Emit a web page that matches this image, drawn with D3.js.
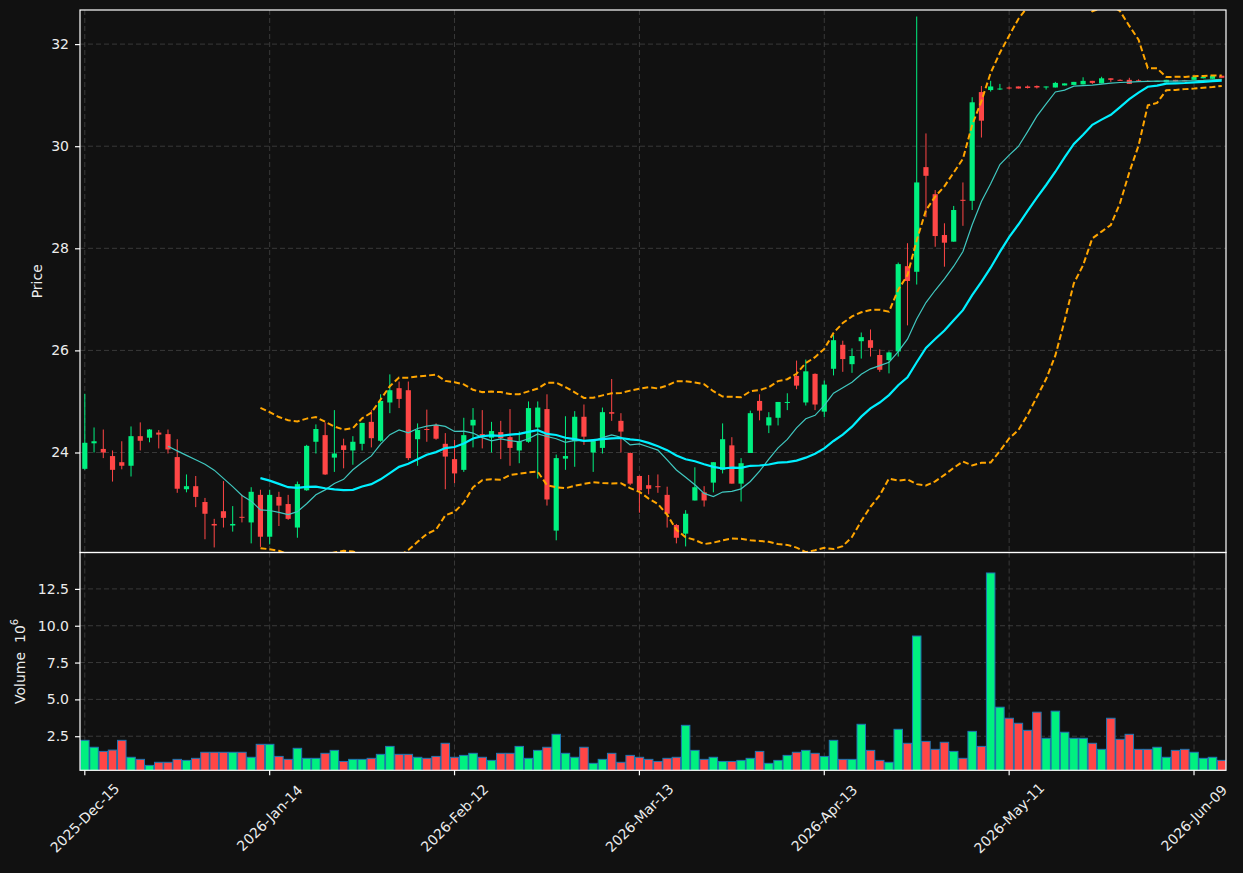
<!DOCTYPE html>
<html>
<head>
<meta charset="utf-8">
<script src="https://cdn.jsdelivr.net/npm/d3@7"></script>
<style>
  html, body { margin: 0; padding: 0; background: #111111; }
  svg { display: block; font-family: "DejaVu Sans", sans-serif; }
</style>
</head>
<body>
<div id="chart"></div>
<script>
// Daily OHLC (price) and volume (millions)
var opens = [23.68,24.18,24.07,23.93,23.81,23.74,24.32,24.29,24.39,24.36,
  23.91,23.28,23.34,23.03,22.60,22.85,22.57,22.74,22.63,23.17,
  22.35,23.13,22.99,22.53,23.26,24.21,24.34,23.90,24.14,24.04,
  24.17,24.60,24.23,24.98,25.26,25.22,24.26,24.46,24.54,24.17,
  23.87,23.66,24.53,24.36,24.29,24.40,24.30,24.04,24.21,24.49,
  24.85,22.47,23.88,24.22,24.70,24.00,24.09,24.79,24.62,23.99,
  23.54,23.36,23.34,23.17,22.58,22.41,23.06,23.22,23.41,23.66,
  24.14,23.39,23.99,25.01,24.53,24.68,24.98,25.50,24.98,25.54,
  24.80,25.64,26.11,25.73,26.18,26.20,25.91,25.81,25.98,27.65,
  27.54,29.59,29.06,28.26,28.13,28.95,28.93,31.06,31.10,31.12,
  31.15,31.17,31.17,31.18,31.15,31.15,31.19,31.20,31.21,31.28,
  31.23,31.33,31.30,31.30,31.29,31.28,31.26,31.25,31.30,31.29,
  31.30,31.33,31.32,31.38];
var highs = [25.15,24.49,24.45,24.04,24.22,24.51,24.59,24.46,24.44,24.45,
  24.26,23.57,23.54,23.11,22.70,23.44,22.95,23.17,23.32,23.27,
  23.27,23.23,23.17,23.43,24.15,24.55,24.59,24.83,24.27,24.32,
  24.58,24.83,25.14,25.53,25.39,25.39,24.57,24.84,24.57,24.38,
  24.25,24.68,24.87,24.83,24.60,24.62,24.85,24.41,25.00,25.00,
  25.14,23.96,24.71,24.81,24.94,24.23,24.88,25.44,24.77,24.00,
  23.55,23.56,23.57,23.33,22.60,22.87,23.71,23.34,23.81,24.57,
  24.30,23.89,24.82,25.14,24.79,24.99,25.16,25.80,25.82,25.55,
  25.41,26.30,26.19,26.04,26.35,26.41,26.02,25.98,27.72,28.10,
  32.54,30.25,29.14,28.49,28.83,29.29,30.96,31.18,31.28,31.22,
  31.17,31.17,31.19,31.19,31.17,31.26,31.23,31.26,31.35,31.28,
  31.36,31.33,31.31,31.34,31.31,31.29,31.28,31.30,31.30,31.30,
  31.36,31.37,31.38,31.38];
var lows = [23.66,24.00,23.89,23.43,23.67,23.53,24.04,24.20,24.08,23.98,
  23.21,23.22,22.93,22.30,22.14,22.53,22.45,22.63,22.22,22.15,
  22.20,22.56,22.68,22.33,23.25,23.98,23.56,23.62,23.69,23.76,
  24.04,24.10,24.21,24.77,24.87,23.85,23.74,24.21,24.25,23.28,
  23.40,23.62,24.10,24.08,24.00,23.87,23.74,23.79,24.19,23.49,
  22.96,22.28,23.66,23.72,24.15,23.62,23.98,24.62,24.00,23.36,
  22.82,23.18,23.21,22.53,22.22,22.16,23.06,22.94,23.22,23.59,
  23.39,23.04,23.99,24.63,24.38,24.53,24.83,25.24,24.92,24.83,
  24.69,25.51,25.58,25.56,25.84,25.88,25.58,25.55,25.88,26.49,
  27.29,28.61,28.03,27.64,28.13,28.44,28.75,30.17,31.07,31.10,
  31.11,31.13,31.13,31.13,31.11,31.15,31.19,31.20,31.21,31.22,
  31.23,31.26,31.28,31.22,31.26,31.26,31.26,31.25,31.27,31.27,
  31.30,31.33,31.32,31.34];
var closes = [24.19,24.22,24.00,23.66,23.74,24.32,24.23,24.45,24.35,24.06,
  23.29,23.34,23.13,22.80,22.57,22.72,22.60,22.73,23.23,22.35,
  23.17,22.96,22.70,23.38,24.13,24.46,23.57,23.98,24.05,24.21,
  24.58,24.28,25.01,25.22,25.05,23.89,24.44,24.45,24.27,23.92,
  23.59,24.34,24.64,24.32,24.42,24.28,24.09,24.22,24.87,24.88,
  23.08,23.89,23.93,24.70,24.31,24.23,24.79,24.76,24.41,23.39,
  23.26,23.29,23.32,22.80,22.33,22.80,23.32,23.06,23.81,24.26,
  23.39,23.79,24.77,24.82,24.69,24.99,24.99,25.31,25.59,24.94,
  25.33,26.20,25.83,25.89,26.26,26.05,25.62,25.96,27.69,27.36,
  29.29,29.42,28.24,28.11,28.75,28.93,30.86,30.50,31.17,31.13,
  31.13,31.13,31.14,31.15,31.17,31.24,31.23,31.26,31.28,31.24,
  31.33,31.30,31.28,31.22,31.28,31.26,31.28,31.30,31.27,31.27,
  31.36,31.36,31.38,31.34];
var volumes = [2.22,1.75,1.47,1.56,2.22,1.07,0.93,0.52,0.73,0.73,
  0.93,0.86,1.00,1.41,1.41,1.41,1.41,1.41,1.07,1.95,
  1.95,1.13,0.93,1.68,1.00,1.00,1.34,1.54,0.79,0.93,
  0.93,1.00,1.27,1.81,1.27,1.27,1.07,1.00,1.13,2.02,
  1.07,1.20,1.34,1.07,0.86,1.34,1.34,1.81,1.00,1.54,
  1.75,2.63,1.34,1.07,1.75,0.66,0.93,1.34,0.73,1.20,
  1.07,0.93,0.79,1.00,1.07,3.24,1.54,0.93,1.07,0.79,
  0.79,0.86,1.00,1.47,0.66,0.86,1.20,1.41,1.54,1.34,
  1.13,2.22,0.93,0.93,3.31,1.54,0.86,0.73,2.97,2.02,
  9.30,2.15,1.61,2.09,1.47,1.00,2.83,1.81,13.58,4.47,
  3.72,3.38,2.90,4.13,2.36,4.20,2.77,2.36,2.36,2.02,
  1.61,3.72,2.29,2.63,1.61,1.61,1.75,1.07,1.54,1.61,
  1.41,1.00,1.07,0.86];

var tickIndex = [0, 20, 40, 60, 80, 100, 120];
var tickLabels = ["2025-Dec-15", "2026-Jan-14", "2026-Feb-12", "2026-Mar-13",
  "2026-Apr-13", "2026-May-11", "2026-Jun-09"];
var priceTicks = [24, 26, 28, 30, 32];
var volumeTicks = [2.5, 5, 7.5, 10, 12.5];

// moving averages + bollinger (20, 2 sd) from the closes
function sma(values, n) {
  return values.map(function(v, i) {
    if (i < n - 1) return null;
    return d3.mean(values.slice(i - n + 1, i + 1));
  });
}
function band(values, n, k) {
  return values.map(function(v, i) {
    if (i < n - 1) return null;
    var w = values.slice(i - n + 1, i + 1);
    var m = d3.mean(w);
    var sd = Math.sqrt(d3.mean(w, function(d) { return (d - m) * (d - m); }));
    return m + k * sd;
  });
}
var ma10 = sma(closes, 10);
var ma20 = sma(closes, 20);
var bbUpper = band(closes, 20, 2);
var bbLower = band(closes, 20, -2);

var svgWidth = 1243, svgHeight = 873;
var left = 80, right = 1226;
var priceTop = 10, priceBottom = 552.5, volTop = 552.5, volBottom = 770.3;
var up = "#00f080", down = "#ff4646";
var textColor = "#ececec";

var svg = d3.select("#chart").append("svg")
  .attr("width", svgWidth)
  .attr("height", svgHeight);
svg.append("rect").attr("width", svgWidth).attr("height", svgHeight).attr("fill", "#111111");

var x = d3.scaleLinear().domain([-0.52, 123.46]).range([left, right]);
var yPrice = d3.scaleLinear().domain([22.041, 32.668]).range([priceBottom, priceTop]);
var yVol = d3.scaleLinear().domain([0.187, 14.97]).range([volBottom, volTop]);
var step = x(1) - x(0);

svg.append("clipPath").attr("id", "clipPrice").append("rect")
  .attr("x", left).attr("y", priceTop).attr("width", right - left).attr("height", priceBottom - priceTop);
svg.append("clipPath").attr("id", "clipVol").append("rect")
  .attr("x", left).attr("y", volTop).attr("width", right - left).attr("height", volBottom - volTop);

// grid
var grid = svg.append("g").attr("stroke", "#444444").attr("stroke-width", 0.8).attr("stroke-dasharray", "5,3");
tickIndex.forEach(function(t) {
  grid.append("line").attr("x1", x(t)).attr("x2", x(t)).attr("y1", priceTop).attr("y2", priceBottom);
  grid.append("line").attr("x1", x(t)).attr("x2", x(t)).attr("y1", volTop).attr("y2", volBottom);
});
priceTicks.forEach(function(t) {
  grid.append("line").attr("x1", left).attr("x2", right).attr("y1", yPrice(t)).attr("y2", yPrice(t));
});
volumeTicks.forEach(function(t) {
  grid.append("line").attr("x1", left).attr("x2", right).attr("y1", yVol(t)).attr("y2", yVol(t));
});

// candles
var idx = d3.range(closes.length);
var candles = svg.append("g").attr("clip-path", "url(#clipPrice)");
candles.selectAll("line.wick").data(idx).enter().append("line")
  .attr("class", "wick")
  .attr("x1", function(i) { return x(i); })
  .attr("x2", function(i) { return x(i); })
  .attr("y1", function(i) { return yPrice(highs[i]); })
  .attr("y2", function(i) { return yPrice(lows[i]); })
  .attr("stroke", function(i) { return closes[i] >= opens[i] ? up : down; })
  .attr("stroke-width", 1);
var bw = step * 0.56;
candles.selectAll("rect.body").data(idx).enter().append("rect")
  .attr("class", "body")
  .attr("x", function(i) { return x(i) - bw / 2; })
  .attr("y", function(i) { return yPrice(Math.max(opens[i], closes[i])); })
  .attr("width", bw)
  .attr("height", function(i) { return Math.max(1, Math.abs(yPrice(opens[i]) - yPrice(closes[i]))); })
  .attr("fill", function(i) { return closes[i] >= opens[i] ? up : down; });

// indicator lines
function lineOf(arr) {
  return d3.line()
    .defined(function(i) { return arr[i] !== null; })
    .x(function(i) { return x(i); })
    .y(function(i) { return yPrice(arr[i]); });
}
var lines = svg.append("g").attr("clip-path", "url(#clipPrice)").attr("fill", "none");
lines.append("path").attr("d", lineOf(bbUpper)(idx)).attr("stroke", "#ffa500").attr("stroke-width", 2).attr("stroke-dasharray", "6,3");
lines.append("path").attr("d", lineOf(bbLower)(idx)).attr("stroke", "#ffa500").attr("stroke-width", 2).attr("stroke-dasharray", "6,3");
lines.append("path").attr("d", lineOf(ma10)(idx)).attr("stroke", "#40c8c0").attr("stroke-width", 1.2);
lines.append("path").attr("d", lineOf(ma20)(idx)).attr("stroke", "#00f0ff").attr("stroke-width", 2.2);

// volume bars
var vbw = step * 0.92;
svg.append("g").attr("clip-path", "url(#clipVol)")
  .selectAll("rect").data(idx).enter().append("rect")
  .attr("x", function(i) { return x(i) - vbw / 2; })
  .attr("y", function(i) { return yVol(volumes[i]); })
  .attr("width", vbw)
  .attr("height", function(i) { return volBottom - yVol(volumes[i]) + 2; })
  .attr("fill", function(i) { return closes[i] >= opens[i] ? up : down; })
  .attr("stroke", "#1f77b4")
  .attr("stroke-width", 1);

// frames
var frame = svg.append("g").attr("fill", "none").attr("stroke", "white").attr("stroke-width", 1.2);
frame.append("rect").attr("x", left).attr("y", priceTop).attr("width", right - left).attr("height", priceBottom - priceTop);
frame.append("rect").attr("x", left).attr("y", volTop).attr("width", right - left).attr("height", volBottom - volTop);

// axes
function styleAxis(g) {
  g.select(".domain").remove();
  g.selectAll(".tick line").attr("stroke", "white").attr("stroke-width", 1.2);
  g.selectAll(".tick text").attr("fill", textColor).attr("font-size", "14px").attr("font-family", "DejaVu Sans");
}
svg.append("g").attr("transform", "translate(" + left + ",0)")
  .call(d3.axisLeft(yPrice).tickValues(priceTicks).tickFormat(d3.format("d")).tickSize(5).tickPadding(6))
  .call(styleAxis);
svg.append("g").attr("transform", "translate(" + left + ",0)")
  .call(d3.axisLeft(yVol).tickValues(volumeTicks).tickFormat(d3.format(".1f")).tickSize(5).tickPadding(6))
  .call(styleAxis);

var xAxis = svg.append("g");
tickIndex.forEach(function(t, k) {
  xAxis.append("line").attr("x1", x(t)).attr("x2", x(t)).attr("y1", volBottom).attr("y2", volBottom + 5)
    .attr("stroke", "white").attr("stroke-width", 1.2);
  xAxis.append("text")
    .attr("transform", "translate(" + x(t) + "," + 818 + ") rotate(-45)")
    .attr("text-anchor", "middle")
    .attr("dominant-baseline", "central")
    .attr("fill", textColor)
    .attr("font-size", "14px")
    .text(tickLabels[k]);
});

// axis titles
svg.append("text")
  .attr("transform", "translate(37," + ((priceTop + priceBottom) / 2) + ") rotate(-90)")
  .attr("text-anchor", "middle").attr("dominant-baseline", "central")
  .attr("fill", textColor).attr("font-size", "14px")
  .text("Price");
var vt = svg.append("text")
  .attr("transform", "translate(20," + ((volTop + volBottom) / 2) + ") rotate(-90)")
  .attr("text-anchor", "middle").attr("dominant-baseline", "central")
  .attr("fill", textColor).attr("font-size", "14px")
  .attr("xml:space", "preserve");
vt.append("tspan").text("Volume\u00a0\u00a010");
vt.append("tspan").attr("font-size", "10px").attr("dy", "-6").text("6");
</script>
</body>
</html>
